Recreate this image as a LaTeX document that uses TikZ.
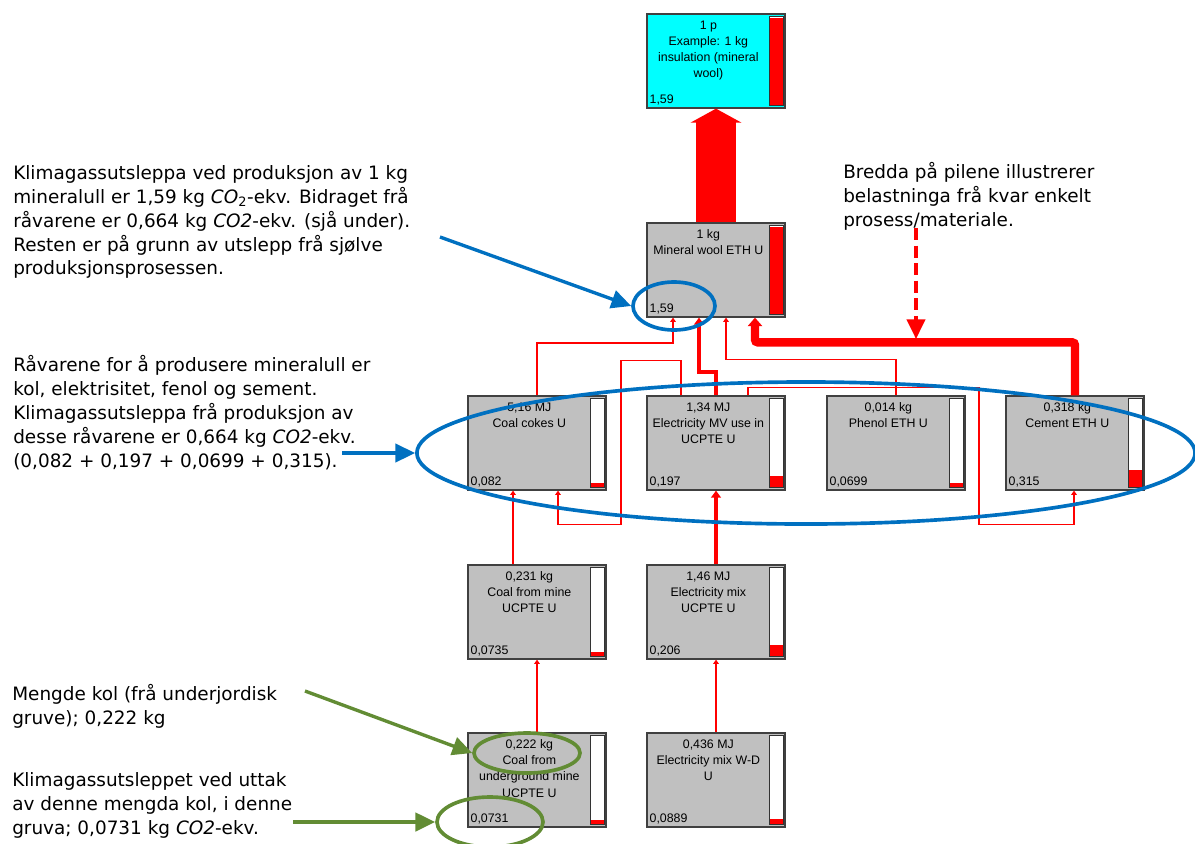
\documentclass[tikz,border=0pt]{standalone}
\usepackage{fontspec}
\newfontfamily\boxfont{Liberation Sans}
\newfontfamily\notefont{DejaVu Sans}
\usetikzlibrary{calc,arrows.meta,shapes.geometric}
\definecolor{noteblue}{RGB}{0,112,192}
\definecolor{notegreen}{RGB}{98,140,52}
\definecolor{topcyan}{RGB}{0,255,255}
\definecolor{boxgray}{RGB}{192,192,192}

\begin{document}
\begin{tikzpicture}[x=0.025cm, y=-0.025cm,
  proc/.style={draw=black!75, line width=0.9pt, fill=boxgray, minimum width=3.45cm, minimum height=2.35cm, inner sep=0pt},
  ttl/.style={anchor=north, align=center, inner sep=0pt, font=\boxfont\fontsize{8.8}{11.5}\selectfont},
  val/.style={anchor=base west, inner sep=0pt, font=\boxfont\fontsize{8.8}{11.5}\selectfont},
  flow/.style={draw=red, line width=1pt, -{Triangle[length=3pt,width=4pt]}},
  note/.style={anchor=north west, align=left, inner sep=0pt, font=\notefont\fontsize{13.1}{17}\selectfont},
  ring/.style={ellipse, line width=2.6pt, inner sep=0pt},
  pointer/.style={line width=2.4pt, -{Triangle[length=14pt,width=13pt]}}]
	\useasboundingbox (0,0) rectangle (1195,843);
	% process boxes
	\node[proc, fill=topcyan] (top) at (716,61) {};
	\node[proc] (mw) at (716,270) {};
	\node[proc] (cc) at (537,443) {};
	\node[proc] (emv) at (716,443) {};
	\node[proc] (ph) at (896,443) {};
	\node[proc] (ce) at (1075,443) {};
	\node[proc] (cm) at (537,612) {};
	\node[proc] (em) at (716,612) {};
	\node[proc] (cu) at (537,780) {};
	\node[proc] (ew) at (716,780) {};
	\foreach \n/\t/\v/\f in {top/{1 p\\Example: 1 kg\\insulation (mineral\\wool)}/{1,59}/1, mw/{1 kg\\Mineral wool ETH U}/{1,59}/1, cc/{5,16 MJ\\Coal cokes U}/{0,082}/0.052, emv/{1,34 MJ\\Electricity MV use in\\UCPTE U}/{0,197}/0.124, ph/{0,014 kg\\Phenol ETH U}/{0,0699}/0.044, ce/{0,318 kg\\Cement ETH U}/{0,315}/0.198, cm/{0,231 kg\\Coal from mine\\UCPTE U}/{0,0735}/0.046, em/{1,46 MJ\\Electricity mix\\UCPTE U}/{0,206}/0.13, cu/{0,222 kg\\Coal from\\underground mine\\UCPTE U}/{0,0731}/0.046, ew/{0,436 MJ\\Electricity mix W-D\\U}/{0,0889}/0.056} {
		\node[ttl] (\n-t) at ($(\n.north west)+(62,7)$) {\t};
		\node[val] (\n-v) at ($(\n.south west)+(3,-5)$) {\v};
		\draw[black!80, line width=0.9pt, fill=white] ($(\n.north east)+(-16,3)$) rectangle ($(\n.south east)+(-2,-3)$);
		\fill[red] ($(\n.south east)+(-15.5,-3.5)$) rectangle ($(\n.south east)+(-2.5,{-3.5-\f*87})$);
	}
	% flows into mineral wool
	\draw[flow, line width=1.4pt] (cc.north) |- ($(mw.south)+(-43,25)$) -- ($(mw.south)+(-43,0)$);
	\draw[flow, line width=3pt, -{Triangle[length=5pt,width=7pt]}] (emv.north) -- ++(0,-23) -| ($(mw.south)+(-17,0)$);
	\draw[flow] (ph.north) -- ++(0,-36) -| ($(mw.south)+(10,0)$);
	\draw[flow, line width=6pt, rounded corners=2pt, -{Triangle[length=6pt,width=10pt]}] (ce.north) -- ++(0,-53) -| ($(mw.south)+(39,0)$);
	% electricity into coal cokes and cement
	\draw[flow, line width=0.8pt] ($(emv.north)+(-35,0)$) -- ++(0,-35) -| ++(-60,164) -| ($(cc.south)+(21,0)$);
	\draw[flow, line width=0.8pt] ($(emv.north)+(32,0)$) -- ++(0,-8) -| ++(231,137) -| ($(ce.south)+(-1,0)$);
	% lower rows
	\draw[flow] ($(cm.north)+(-24,0)$) -- ($(cc.south)+(-24,0)$);
	\draw[flow, line width=3.5pt, -{Triangle[length=5pt,width=7pt]}] (em.north) -- (emv.south);
	\draw[flow, line width=1.4pt] (cu.north) -- (cm.south);
	\draw[flow, line width=1.2pt] (ew.north) -- (em.south);
	\draw[red, line width=28pt, -{Triangle[length=10pt,width=36pt]}] (mw.north) -- (top.south);
	% notes
	\node[note] (n1) at (13,165) {Klimagassutsleppa ved produksjon av 1 kg\\mineralull er 1,59 kg \textit{CO}\textsubscript{2}-ekv. Bidraget frå\\råvarene er 0,664 kg \textit{CO2}-ekv. (sjå under).\\Resten er på grunn av utslepp frå sjølve\\produksjonsprosessen.};
	\node[note] (n2) at (13,355) {Råvarene for å produsere mineralull er\\kol, elektrisitet, fenol og sement.\\Klimagassutsleppa frå produksjon av\\desse råvarene er 0,664 kg \textit{CO2}-ekv.\\(0,082 + 0,197 + 0,0699 + 0,315).};
	\node[note] (n3) at (843,162) {Bredda på pilene illustrerer\\belastninga frå kvar enkelt\\prosess/materiale.};
	\node[note] (n4) at (12,684) {Mengde kol (frå underjordisk\\gruve); 0,222 kg};
	\node[note] (n5) at (12,772) {Klimagassutsleppet ved uttak\\av denne mengda kol, i denne\\gruva; 0,0731 kg \textit{CO2}-ekv.};
	% rings and pointers
	\node[ring, draw=noteblue, minimum width=2.05cm, minimum height=1.2cm] (r1) at (674,306) {};
	\node[ring, draw=noteblue, minimum width=19.45cm, minimum height=3.55cm] (r2) at (806,453) {};
	\node[ring, draw=notegreen, minimum width=2.65cm, minimum height=1.0cm] (r3) at (527,753) {};
	\node[ring, draw=notegreen, minimum width=2.65cm, minimum height=1.25cm] (r4) at (490,822) {};
	\coordinate (a1) at (440,237);
	\coordinate (a2) at (342,453);
	\coordinate (a3) at (305,691);
	\coordinate (a4) at (293,822);
	\draw[pointer, noteblue] (a1) -- (r1.west);
	\draw[pointer, noteblue] (a2) -- (r2.west);
	\draw[pointer, notegreen] (a3) -- (r3.west);
	\draw[pointer, notegreen] (a4) -- (r4.west);
	\coordinate (d1) at (916,228);
	\coordinate (d2) at (916,339);
	\draw[red, line width=2.4pt, dash pattern=on 8.5pt off 4pt, -{Triangle[length=14pt,width=13pt]}] (d1) -- (d2);
\end{tikzpicture}
\end{document}
